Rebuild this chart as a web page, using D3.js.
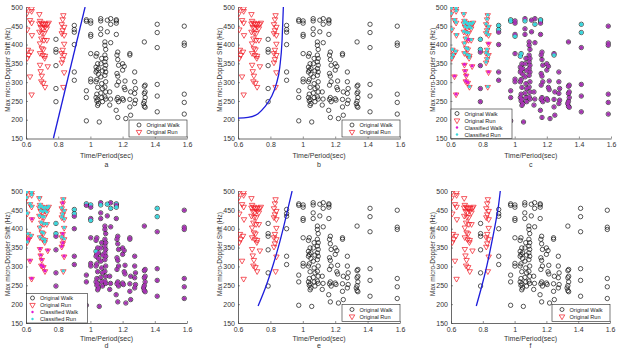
<!DOCTYPE html>
<html>
<head>
<meta charset="utf-8">
<script src="https://cdn.jsdelivr.net/npm/d3@7"></script>
<style>
  body { margin: 0; background: #fff; }
  svg { display: block; font-family: "Liberation Sans", Arial, sans-serif; }
</style>
</head>
<body>
<svg id="chart" width="621" height="350"></svg>
<script>
// original walk samples: [period, shift, classified-run in c, classified-run in d]
const walkPts = [
  [0.786,414,1,1],[0.786,387,1,1],[0.786,380,0,0],[0.786,344,0,0],[0.786,283,0,0],[0.786,248,0,0],
  [0.9,451,1,1],[0.9,440,1,1],[0.9,433,0,0],[0.9,400,0,0],[0.9,327,0,0],[0.9,305,0,0],
  [0.975,466,1,1],[0.975,462,1,0],[0.975,277,0,0],[0.975,259,0,0],[0.975,197,0,0],
  [1.002,463,0,1],[1.002,457,0,0],[1.002,427,0,0],[1.002,422,1,1],[1.002,376,0,0],[1.002,308,0,0],[1.002,301,0,0],
  [1.064,469,0,0],[1.064,463,1,1],[1.064,442,0,0],[1.064,427,0,0],
  [1.105,465,0,1],[1.105,434,0,0],
  [1.126,469,0,0],[1.126,454,1,1],[1.126,405,0,0],
  [1.161,466,1,1],[1.161,463,1,0],[1.161,457,0,1],[1.161,427,0,0],
  [1.04,376,1,0],[1.035,369,1,0],[1.045,349,0,0],[1.035,340,0,1],[1.05,336,0,0],[1.04,332,0,0],[1.035,327,0,0],
  [1.05,321,0,0],[1.04,307,0,0],[1.035,301,0,0],[1.045,286,0,0],[1.04,268,0,0],[1.035,259,0,0],[1.045,254,0,0],
  [1.04,250,0,0],[1.05,243,0,0],[1.045,238,0,0],
  [1.07,363,0,0],[1.065,349,0,0],[1.075,330,0,0],[1.065,314,0,0],[1.07,296,0,0],[1.075,283,0,0],[1.065,271,0,0],
  [1.07,259,0,0],[1.075,248,0,0],[1.055,194,0,0],
  [1.09,407,0,0],[1.09,398,0,0],[1.095,387,0,0],[1.09,372,0,0],[1.095,363,0,0],[1.09,354,0,0],[1.095,345,0,0],
  [1.09,336,0,0],[1.095,327,0,0],[1.09,318,0,0],[1.095,301,0,0],[1.09,287,0,0],[1.095,274,0,0],[1.09,261,0,0],[1.095,255,0,0],
  [1.12,274,0,0],[1.125,255,0,0],[1.12,239,0,0],
  [1.17,380,0,0],[1.165,372,0,0],[1.17,360,0,0],[1.175,345,0,0],[1.165,323,0,0],[1.17,316,0,0],[1.175,301,0,0],
  [1.165,292,0,0],[1.17,259,0,0],[1.165,254,0,0],[1.175,248,0,0],[1.16,225,0,0],[1.17,206,0,0],
  [1.2,349,0,0],[1.21,342,0,0],[1.2,332,0,0],[1.215,303,0,0],[1.21,286,0,0],[1.215,280,0,0],[1.2,256,0,0],[1.205,252,0,0],[1.22,203,0,0],
  [1.245,376,0,0],[1.245,372,1,0],[1.25,274,0,0],[1.245,254,0,0],[1.245,234,0,0],[1.25,212,0,0],
  [1.275,327,0,0],[1.275,301,0,0],[1.28,283,0,0],[1.275,270,0,0],[1.28,252,0,0],[1.275,243,0,0],
  [1.335,407,0,0],[1.34,292,0,0],[1.335,289,0,0],[1.34,274,0,0],[1.335,270,0,0],[1.34,259,0,0],[1.335,249,0,0],
  [1.33,243,0,0],[1.335,236,0,0],[1.34,233,0,0],
  [1.415,454,1,1],[1.415,432,1,1],[1.415,392,0,0],[1.415,294,0,0],[1.415,263,0,0],[1.415,221,0,0],
  [1.583,449,0,0],[1.583,404,0,0],[1.583,398,0,0],[1.583,268,0,0],[1.583,246,0,0],[1.583,215,0,0]
];

// original run samples: [period, shift, classified-run in c, classified-run in d]
const runPts = [
  [0.604,496,1,1],[0.604,482,1,1],[0.608,440,1,1],[0.612,386,1,1],[0.617,372,1,0],[0.608,364,1,1],
  [0.635,496,1,1],[0.635,489,1,1],[0.625,465,1,1],[0.635,458,1,1],[0.637,425,1,0],[0.631,381,1,1],
  [0.625,315,0,0],[0.635,267,0,0],
  [0.683,481,1,1],[0.687,463,1,1],[0.683,456,1,1],[0.698,458,1,1],[0.708,454,1,1],[0.72,456,1,1],
  [0.733,454,1,1],[0.741,458,1,1],[0.691,447,1,1],[0.704,444,1,1],[0.718,447,1,1],[0.729,443,1,1],
  [0.683,434,1,1],[0.7,431,1,1],[0.712,430,1,1],[0.695,416,1,1],[0.712,412,0,1],[0.729,412,1,1],
  [0.687,403,1,1],[0.698,390,1,1],[0.708,387,1,1],[0.687,377,1,1],[0.704,372,1,1],[0.718,370,1,1],
  [0.716,364,1,1],[0.687,346,0,0],[0.735,342,0,0],[0.691,329,0,0],[0.698,317,0,0],[0.695,302,0,0],
  [0.708,298,0,0],[0.718,287,1,0],
  [0.832,478,1,1],[0.828,467,1,0],[0.822,454,1,1],[0.837,447,1,1],[0.828,438,1,1],[0.822,430,1,1],
  [0.837,425,1,1],[0.837,402,0,1],[0.828,386,1,0],[0.822,377,1,1],[0.837,372,1,1],[0.828,361,1,0],
  [0.822,352,1,0],[0.837,326,0,0],[0.832,287,1,1]
];

// decision boundaries
const boundaryA = [[0.77,150],[0.967,500]];
const boundaryB = [[0.6,204],[0.662,206],[0.724,216],[0.765,234],[0.806,261],[0.837,296],[0.858,340],[0.872,411],[0.88,500]];
const boundaryE = [[0.724,195],[0.775,250],[0.816,303],[0.858,365],[0.889,418],[0.913,462],[0.934,500]];
const boundaryF = [[0.759,195],[0.795,250],[0.826,303],[0.857,365],[0.885,427],[0.899,462],[0.91,500]];

const xTicks = [0.6, 0.8, 1, 1.2, 1.4, 1.6];
const yTicks = [150, 200, 250, 300, 350, 400, 450, 500];
const xLabel = 'Time/Period(sec)';
const yLabel = 'Max micro-Doppler Shift (Hz)';
const legend2 = ['Original Walk', 'Original Run'];
const legend4 = ['Original Walk', 'Original Run', 'Classified Walk', 'Classified Run'];

const panels = [
  { id: 'a', x0: 26, x1: 187, y0: 7, y1: 138.5, line: boundaryA, cls: null },
  { id: 'b', x0: 238, x1: 400, y0: 7, y1: 138.5, line: boundaryB, cls: null },
  { id: 'c', x0: 450.5, x1: 611, y0: 7, y1: 138.5, line: null, cls: 2 },
  { id: 'd', x0: 26, x1: 187, y0: 191, y1: 323, line: null, cls: 3 },
  { id: 'e', x0: 238, x1: 400, y0: 191, y1: 323, line: boundaryE, cls: null },
  { id: 'f', x0: 451, x1: 610, y0: 191, y1: 323, line: boundaryF, cls: null },
];

const RED = '#f0141e', MAG = '#e01ad0', PURPLE = '#a533b2', CYAN = '#3ad6dc', BLUE = '#1d1ddb';
const svg = d3.select('#chart');
const tri = d3.symbol().type(d3.symbolTriangle).size(13);

function drawTri(sel, x, y, fill) {
  sel.append('path')
    .attr('d', tri())
    .attr('transform', `translate(${x},${y}) rotate(180)`)
    .attr('fill', fill)
    .attr('stroke', RED)
    .attr('stroke-width', 0.7);
}

panels.forEach((p, i) => {
  const x = d3.scaleLinear().domain([0.6, 1.6]).range([p.x0, p.x1]);
  const y = d3.scaleLinear().domain([150, 500]).range([p.y1, p.y0]);
  const g = svg.append('g');
  const bottomRow = p.y0 > 100;

  const clipId = 'clip' + i;
  g.append('clipPath').attr('id', clipId)
    .append('rect').attr('x', p.x0).attr('y', p.y0)
    .attr('width', p.x1 - p.x0).attr('height', p.y1 - p.y0);

  // axes, inward ticks like the original
  const ax = g.append('g').attr('transform', `translate(0,${p.y1})`)
    .call(d3.axisBottom(x).tickValues(xTicks).tickFormat(d3.format('~g'))
      .tickSizeInner(-2).tickSizeOuter(0).tickPadding(4));
  const ay = g.append('g').attr('transform', `translate(${p.x0},0)`)
    .call(d3.axisLeft(y).tickValues(yTicks).tickSizeInner(-2).tickSizeOuter(0).tickPadding(3));
  [ax, ay].forEach(a => {
    a.select('.domain').attr('stroke', '#444').attr('stroke-width', 0.8);
    a.selectAll('.tick line').attr('stroke', '#444').attr('stroke-width', 0.6);
    a.selectAll('.tick text').attr('fill', '#333').attr('font-size', 7);
  });

  g.append('text')
    .attr('x', (p.x0 + p.x1) / 2).attr('y', p.y1 + (bottomRow ? 17.5 : 19.5))
    .attr('text-anchor', 'middle').attr('font-size', 7).attr('fill', '#333')
    .text(xLabel);
  g.append('text')
    .attr('x', (p.x0 + p.x1) / 2).attr('y', p.y1 + (bottomRow ? 25 : 28.5))
    .attr('text-anchor', 'middle').attr('font-size', 7).attr('fill', '#333')
    .text(p.id);
  g.append('text')
    .attr('transform', `translate(${p.x0 - 16},${(p.y0 + p.y1) / 2 - 3}) rotate(-90)`)
    .attr('text-anchor', 'middle').attr('font-size', 6.5).attr('fill', '#333')
    .text(yLabel);

  const marks = g.append('g').attr('clip-path', `url(#${clipId})`);

  marks.selectAll('circle.walk').data(walkPts).join('circle')
    .attr('class', 'walk')
    .attr('cx', d => x(d[0])).attr('cy', d => y(d[1])).attr('r', 2.2)
    .attr('fill', 'none').attr('stroke', '#111').attr('stroke-width', 0.7);

  runPts.forEach(d => drawTri(marks, x(d[0]), y(d[1]), 'none'));

  if (p.cls !== null) {
    marks.selectAll('circle.cw').data(walkPts).join('circle')
      .attr('class', 'cw')
      .attr('cx', d => x(d[0])).attr('cy', d => y(d[1])).attr('r', 1.85)
      .attr('fill', d => d[p.cls] ? CYAN : PURPLE);
    marks.selectAll('circle.cr').data(runPts).join('circle')
      .attr('class', 'cr')
      .attr('cx', d => x(d[0])).attr('cy', d => y(d[1]) - 0.5).attr('r', 1.6)
      .attr('fill', d => d[p.cls] ? CYAN : MAG);
  }

  if (p.line) {
    marks.append('path')
      .datum(p.line)
      .attr('fill', 'none').attr('stroke', BLUE).attr('stroke-width', 1.3)
      .attr('d', d3.line().x(d => x(d[0])).y(d => y(d[1])).curve(d3.curveMonotoneX));
  }

  // legend
  const items = p.cls !== null ? legend4 : legend2;
  const lw = p.cls !== null ? 61 : 58;
  const lh = p.cls !== null ? 29.5 : 17;
  const lx = p.cls !== null ? p.x0 + 0.5 : p.x1 - lw;
  const ly = p.y1 - lh - (p.cls !== null ? 0 : 1.5);
  const lg = g.append('g').attr('transform', `translate(${lx},${ly})`);
  lg.append('rect').attr('width', lw).attr('height', lh)
    .attr('fill', '#fff').attr('stroke', '#222').attr('stroke-width', 0.6);
  items.forEach((t, k) => {
    const cy = 4.5 + k * 7 + (p.cls !== null ? 0 : 0.5);
    const mx = p.cls !== null ? 6 : 10;
    if (k === 0) {
      lg.append('circle').attr('cx', mx).attr('cy', cy).attr('r', 2)
        .attr('fill', 'none').attr('stroke', '#111').attr('stroke-width', 0.7);
    } else if (k === 1) {
      drawTri(lg, mx, cy, 'none');
    } else {
      lg.append('circle').attr('cx', mx).attr('cy', cy).attr('r', 1.2)
        .attr('fill', k === 2 ? MAG : CYAN);
    }
    lg.append('text').attr('x', mx + 7.5).attr('y', cy + 2)
      .attr('font-size', 5.6).attr('fill', '#222').text(t);
  });
});
</script>
</body>
</html>
